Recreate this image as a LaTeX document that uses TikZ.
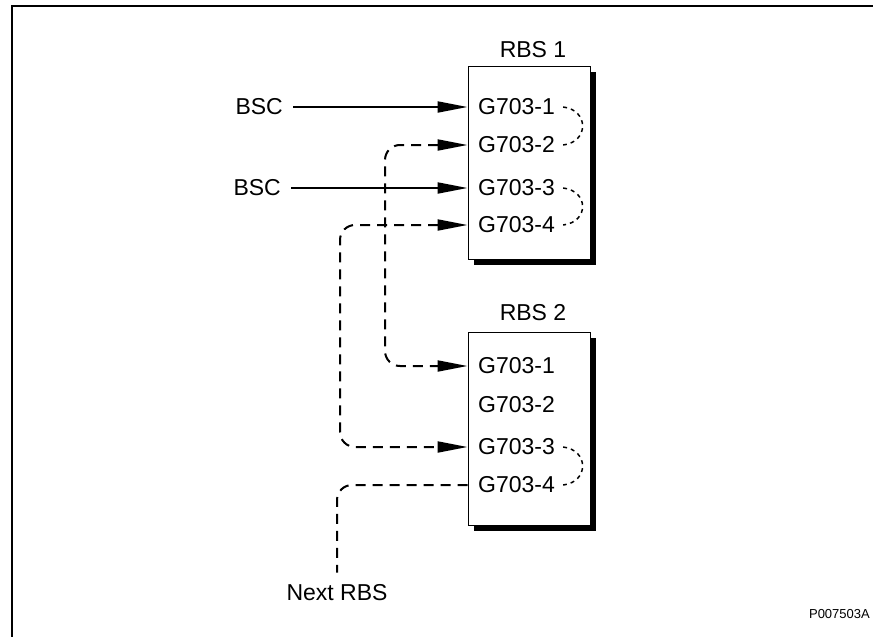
\documentclass[tikz,border=0pt]{standalone}
\usepackage{fontspec}
\setmainfont{Liberation Sans}
\usetikzlibrary{arrows.meta,shadows}

\tikzset{
  rbsbox/.style={draw,line width=1pt,fill=white,minimum width=122pt,minimum height=193pt,
    drop shadow={shadow xshift=6pt,shadow yshift=-6pt,fill=black,opacity=1}},
  lbl/.style={inner sep=0pt,font=\fontsize{23}{27}\selectfont},
  port/.style={lbl,anchor=west},
  feed/.style={line width=2pt,-{Triangle[length=30pt,width=11pt]}},
  link/.style={line width=2pt,dash pattern=on 10pt off 7pt,rounded corners=15pt},
  jumper/.style={line width=1.5pt,dash pattern=on 4pt off 4pt},
}

\begin{document}
\begin{tikzpicture}[x=1pt,y=-1pt]
\useasboundingbox (0,0) rectangle (873,637);
% frame
\draw[line width=1.5pt] (873,6) -- (12,6) -- (12,637);

% the two RBS
\node[rbsbox] (rbsa) at (529,162.5) {};
\node[rbsbox] (rbsb) at (529,428.5) {};
\node[lbl] (rbsalbl) at (533,50) {RBS 1};
\node[lbl] (rbsblbl) at (533,313) {RBS 2};

% ports
\foreach \i/\y in {1/107,2/145,3/188,4/225}
  \node[port] (ap\i) at (478,\y) {G703-\i};
\foreach \i/\y in {1/366,2/405,3/447,4/485}
  \node[port] (bp\i) at (478,\y) {G703-\i};

% BSC feeds
\node[lbl,anchor=east] (bsca) at (283,107) {BSC};
\node[lbl,anchor=east] (bscb) at (281,188) {BSC};
\draw[feed] ([xshift=10pt]bsca.east) -- (rbsa.west |- ap1);
\draw[feed] ([xshift=10pt]bscb.east) -- (rbsa.west |- ap3);

% links between the racks
\coordinate (lanea) at (385,0);
\coordinate (laneb) at (340,0);
\draw[link,{Triangle[length=30pt,width=11pt]}-{Triangle[length=30pt,width=11pt]}]
  (rbsa.west |- ap2) -| (lanea |- bp1) -- (rbsb.west |- bp1);
\draw[link,{Triangle[length=30pt,width=11pt]}-{Triangle[length=30pt,width=11pt]}]
  (rbsa.west |- ap4) -| (laneb |- bp3) -- (rbsb.west |- bp3);
\node[lbl] (next) at (337,593) {Next RBS};
\draw[link] (rbsb.west |- bp4) -| ([yshift=12pt]next.north);

% loops
\draw[jumper] ([xshift=8pt]ap1.east) .. controls +(26,3) and +(26,-3) .. ([xshift=8pt]ap2.east);
\draw[jumper] ([xshift=8pt]ap3.east) .. controls +(26,3) and +(26,-3) .. ([xshift=8pt]ap4.east);
\draw[jumper] ([xshift=8pt]bp3.east) .. controls +(26,3) and +(26,-3) .. ([xshift=8pt]bp4.east);

\node[anchor=east,inner sep=0pt,font=\fontsize{13}{15}\selectfont] (figid) at (870,614) {P007503A};
\end{tikzpicture}
\end{document}
